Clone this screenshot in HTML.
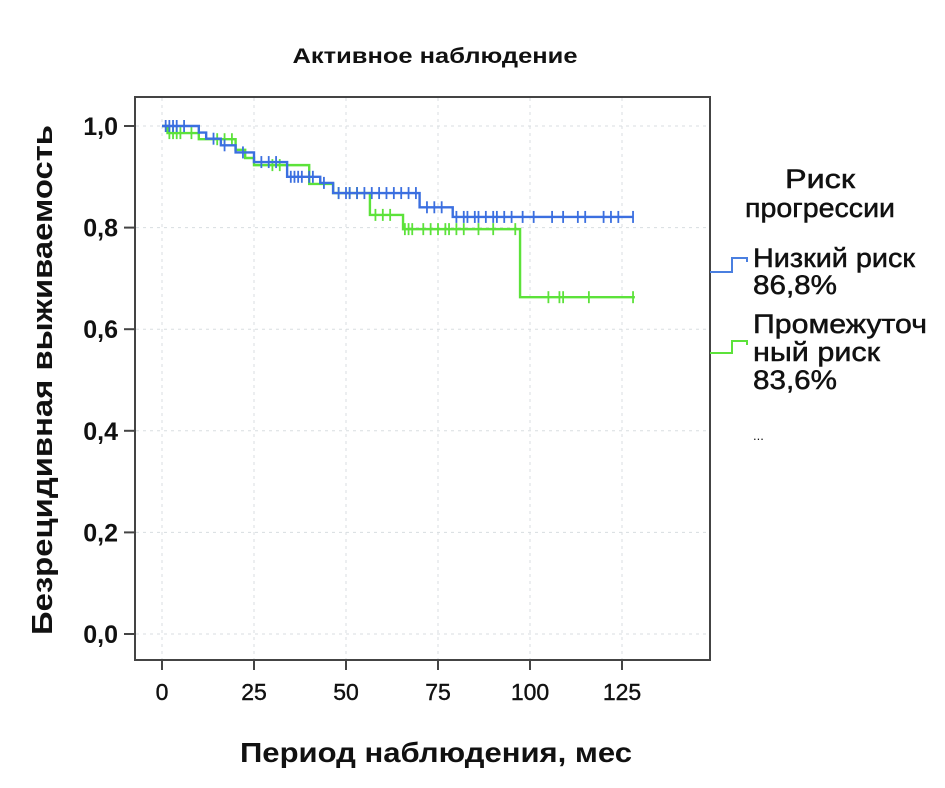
<!DOCTYPE html>
<html><head><meta charset="utf-8"><style>
body{margin:0;background:#fff;}
svg{display:block;font-family:"Liberation Sans","DejaVu Sans",sans-serif;}
</style></head><body>
<svg id="chart" width="945" height="788" viewBox="0 0 945 788">
<text x="435" y="63" text-anchor="middle" font-size="21" font-weight="bold" fill="#111" textLength="285" lengthAdjust="spacingAndGlyphs">Активное наблюдение</text>
<rect x="135" y="97" width="575" height="563" fill="none" stroke="#444" stroke-width="2"/>
<g id="grid"></g><g id="axes"></g><g id="series"></g>
<text transform="translate(52,380) rotate(-90)" text-anchor="middle" font-size="29" font-weight="bold" fill="#111" textLength="510" lengthAdjust="spacingAndGlyphs">Безрецидивная выживаемость</text>
<text x="436" y="762" text-anchor="middle" font-size="28" font-weight="bold" fill="#111" textLength="392" lengthAdjust="spacingAndGlyphs">Период наблюдения, мес</text>
<g font-size="27" fill="#111" stroke="#111" stroke-width="0.5">
<text x="820" y="188" text-anchor="middle" textLength="70" lengthAdjust="spacingAndGlyphs">Риск</text>
<text x="820" y="217" text-anchor="middle" textLength="150" lengthAdjust="spacingAndGlyphs">прогрессии</text>
<text x="753" y="267" textLength="162" lengthAdjust="spacingAndGlyphs">Низкий риск</text>
<text x="753" y="294" textLength="84" lengthAdjust="spacingAndGlyphs">86,8%</text>
<text x="753" y="333" textLength="174" lengthAdjust="spacingAndGlyphs">Промежуточ</text>
<text x="753" y="361" textLength="127" lengthAdjust="spacingAndGlyphs">ный риск</text>
<text x="753" y="389" textLength="84" lengthAdjust="spacingAndGlyphs">83,6%</text>
<text x="753" y="440" font-size="13" stroke="none">...</text>
</g>
<path d="M710,272 H732 V258 H747 V262" fill="none" stroke="#4a7fe0" stroke-width="2"/>
<path d="M710,353 H732 V341 H747 V345" fill="none" stroke="#5ce23a" stroke-width="2"/>
</svg>
<script>
const xTicks=[0,25,50,75,100,125];
const yTicks=[0,0.2,0.4,0.6,0.8,1.0];
const yTickLabels=["0,0","0,2","0,4","0,6","0,8","1,0"];
const lowTimes=[0,10,12,16,20,25,34,43,46.5,70,79,128];
const lowSurv=[1.0,0.987,0.975,0.962,0.948,0.929,0.90,0.888,0.868,0.84,0.821,0.821];
const lowCensor=[1,2,3,4,6,14,17,22,27,29,31,35,36,37,38,40,41,44,48,50,51,53,55,57,59,61,63,65,67,69,72,74,76,80,82,83,85,86,88,90,91,93,95,98,101,106,109,113,115,120,122,124,128];
const midTimes=[0,1.5,10,20,22.6,25,40,46.5,56.5,65.5,97.3,128.5];
const midSurv=[1.0,0.986,0.974,0.953,0.937,0.923,0.886,0.868,0.825,0.797,0.663,0.663];
const midCensor=[2,3,4,5,8,15,17,19,30,32,48,51,53,58,60,62,66,67,68,71,73,75,77,78,80,82,86,90,96,105,108,109,116,128];
const X=t=>162+t*3.68, Y=s=>634-s*508;
const ns="http://www.w3.org/2000/svg";
function mk(tag,attrs,parent){const e=document.createElementNS(ns,tag);for(const k in attrs)e.setAttribute(k,attrs[k]);parent.appendChild(e);return e;}
const grid=document.getElementById('grid'),axes=document.getElementById('axes'),ser=document.getElementById('series');
xTicks.forEach(t=>{
 const l=mk('line',{x1:X(t),x2:X(t),y1:98,y2:659,stroke:'#d8dde0','stroke-dasharray':'3,4'},grid);
 
 
 const tk=mk('line',{x1:X(t),x2:X(t),y1:660,y2:670,stroke:'#444','stroke-width':2},axes);
 
 
 const tx=mk('text',{x:X(t),y:700,'text-anchor':'middle','font-size':23,fill:'#111',stroke:'#111','stroke-width':0.4},axes);
 tx.textContent=t;
 
 
});
yTicks.forEach((v,i)=>{
 const l=mk('line',{x1:136,x2:709,y1:Y(v),y2:Y(v),stroke:'#d8dde0','stroke-dasharray':'3,4'},grid);
 
 
 const tk=mk('line',{x1:124,x2:135,y1:Y(v),y2:Y(v),stroke:'#444','stroke-width':2},axes);
 
 
 const tx=mk('text',{x:118,y:Y(v)+9,'text-anchor':'end','font-size':25,'font-weight':'bold',fill:'#111'},axes);
 tx.textContent=yTickLabels[i];
 
 
});
function survAt(times,surv,t){let s=surv[0];for(let i=0;i<times.length;i++){if(times[i]<=t)s=surv[i];}return s;}
function drawSeries(times,surv,cens,color,name){
 let d='M'+X(times[0])+','+Y(surv[0]);
 for(let i=1;i<times.length;i++){d+=' H'+X(times[i])+' V'+Y(surv[i]);}
 const p=mk('path',{d:d,fill:'none',stroke:color,'stroke-width':2.4},ser);
 
 
 cens.forEach(t=>{
  const y=Y(survAt(times,surv,t));
  const c=mk('line',{x1:X(t),x2:X(t),y1:y-6,y2:y+6,stroke:color,'stroke-width':1.8},ser);
  
  
 });
}
drawSeries(midTimes,midSurv,midCensor,'#5ce23a','intermediate-risk');
drawSeries(lowTimes,lowSurv,lowCensor,'#3b6fe0','low-risk');
</script>
</body></html>
